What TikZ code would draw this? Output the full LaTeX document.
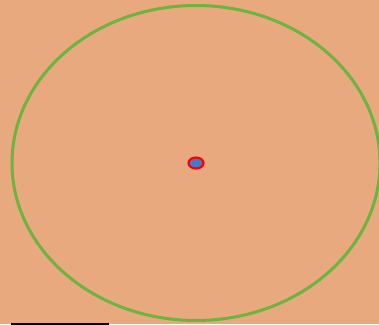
\documentclass[tikz,border=0pt]{standalone}
\usepackage{xcolor}
\usepackage{tikz}

\definecolor{bgtan}{HTML}{E8A97F}
\definecolor{orbitgreen}{HTML}{6DB33F}
\definecolor{coreblue}{HTML}{4A78C8}

\begin{document}
\begin{tikzpicture}[
  x=1pt, y=-1pt,
  orbit/.style={draw=orbitgreen, line width=3pt},
  core/.style={draw=red, fill=coreblue, line width=2.2pt},
  scalebar/.style={draw=black, line width=2.5pt}
]
% background
\fill[bgtan] (0,0) rectangle (379,324);
\useasboundingbox (0,0) rectangle (379,324);
% orbit and centre
\draw[orbit] (196,163) ellipse [x radius=184, y radius=157.5];
\draw[core] (196,163) ellipse [x radius=7.5, y radius=5.5];
% scale bar
\coordinate (barl) at (11,324);
\coordinate (barr) at (109,324);
\draw[scalebar] (barl) -- (barr);
\end{tikzpicture}
\end{document}
